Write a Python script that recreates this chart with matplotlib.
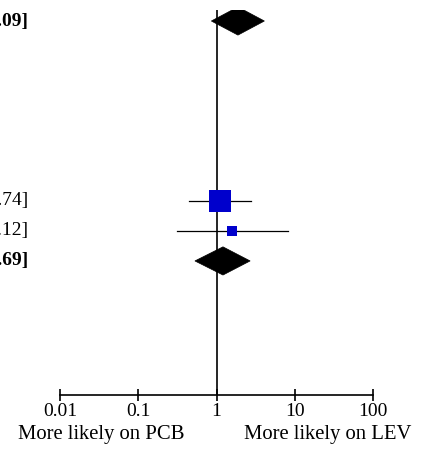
import matplotlib
matplotlib.use("Agg")
import matplotlib.pyplot as plt
import matplotlib.transforms as mtransforms
from matplotlib.patches import Polygon
import numpy as np

plt.rcParams['font.family'] = ['Liberation Serif', 'DejaVu Serif']

# ---- data ----
row_pos = [0, 6, 7, 8]
row_kind = ['diamond', 'study', 'study', 'diamond']
est = [1.88, 1.11, 1.60, 1.21]
lo = [0.86, 0.45, 0.31, 0.53]
hi = [4.09, 2.74, 8.12, 2.69]
weights = [None, 83.7, 16.3, None]
ci_text = ['1.88 [0.86, 4.09]', '1.11 [0.45, 2.74]', '1.60 [0.31, 8.12]', '1.21 [0.53, 2.69]']
tick_vals = [0.01, 0.1, 1, 10, 100]
tick_labels = ['0.01', '0.1', '1', '10', '100']
left_label = 'More likely on PCB'
right_label = 'More likely on LEV'

W, H = 428, 450
fig = plt.figure(figsize=(W / 100, H / 100), dpi=100)
ax = fig.add_axes([60 / W, 55 / H, 313 / W, 385 / H])
ax.set_xscale('log')
ax.set_xlim(0.01, 100)
ax.set_ylim(12.47, -0.367)

ax.axvline(1, color='black', lw=1.2, zorder=1)

for y, k, e, l, h, w in zip(row_pos, row_kind, est, lo, hi, weights):
    if k == 'study':
        ax.plot([l, h], [y, y], color='black', lw=0.9, zorder=2)
        ms = np.sqrt(w) * 1.78
        ax.plot([e], [y], marker='s', ms=ms, color='#0000CC',
                markeredgecolor='#0000CC', mew=0, zorder=3)
    else:
        d = 0.47
        poly = Polygon([[l, y], [e, y - d], [h, y], [e, y + d]], closed=True,
                       facecolor='black', edgecolor='black', lw=0.5, zorder=3)
        ax.add_patch(poly)

trans = mtransforms.blended_transform_factory(fig.transFigure, ax.transData)
for y, k, t in zip(row_pos, row_kind, ci_text):
    ax.text(28 / W, y, t, transform=trans, ha='right', va='center',
            fontsize=14, fontweight='bold' if k == 'diamond' else 'normal',
            clip_on=False)

for s in ['top', 'right', 'left']:
    ax.spines[s].set_visible(False)
ax.spines['bottom'].set_linewidth(1.2)
ax.set_yticks([])
ax.xaxis.set_major_locator(matplotlib.ticker.FixedLocator(tick_vals))
ax.xaxis.set_minor_locator(matplotlib.ticker.NullLocator())
ax.set_xticklabels(tick_labels)
ax.tick_params(axis='x', direction='inout', length=8, width=1.2, labelsize=14, pad=2)
ax.patch.set_visible(False)

fig.text(101.5 / W, 1 - 435 / H, left_label, ha='center', va='center', fontsize=14.9)
fig.text(327.5 / W, 1 - 435 / H, right_label, ha='center', va='center', fontsize=14.9)

fig.savefig('out.png', dpi=100)
